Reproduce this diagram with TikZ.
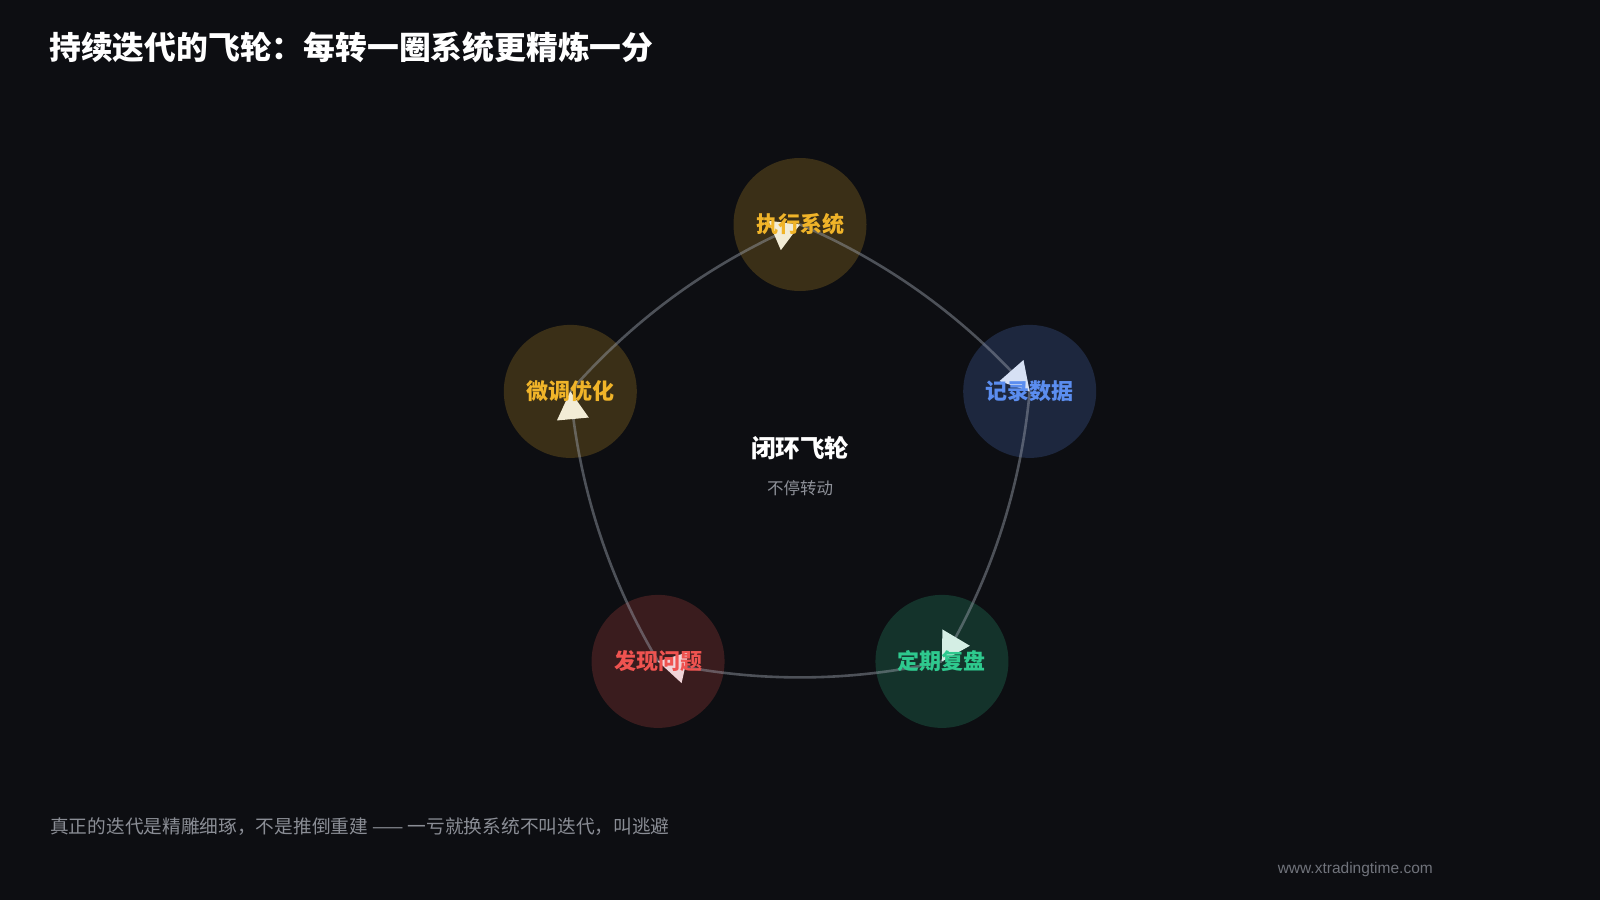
\documentclass[tikz,border=0pt]{standalone}
\usepackage{fontspec}
\setmainfont{Noto Sans CJK SC}
\newfontfamily\latinfont{Liberation Sans}
\usetikzlibrary{calc}
\definecolor{bg}{HTML}{0D0E12}
\definecolor{goldtxt}{HTML}{F0B429}
\definecolor{bluetxt}{HTML}{5B8DEF}
\definecolor{greentxt}{HTML}{2EC98E}
\definecolor{redtxt}{HTML}{EF5350}
\definecolor{goldfill}{RGB}{58,47,23}
\definecolor{bluefill}{RGB}{29,39,62}
\definecolor{greenfill}{RGB}{20,51,43}
\definecolor{redfill}{RGB}{58,28,30}
\definecolor{goldtri}{HTML}{F2ECD6}
\definecolor{bluetri}{HTML}{D6E0F4}
\definecolor{greentri}{HTML}{D4EEE4}
\definecolor{redtri}{HTML}{F0D4D8}
\definecolor{flowcol}{HTML}{9CA3AF}
\definecolor{subgray}{HTML}{8E9199}
\definecolor{footgray}{HTML}{8A8D95}
\definecolor{webgray}{HTML}{70737B}
\begin{document}
\begin{tikzpicture}[x=1pt,y=-1pt,
  ring/.style={circle, minimum size=133pt, inner sep=0pt, draw=none},
  lbl/.style={inner sep=0pt, font=\fontsize{22}{26}\selectfont\bfseries},
  flow/.style={draw=flowcol, draw opacity=0.45, line width=2.6pt},
  tri/.style={fill=#1}]
\fill[bg] (0,0) rectangle (1600,900);
\useasboundingbox (0,0) rectangle (1600,900);

% title
\node[anchor=west, inner sep=0pt, text=white, font=\fontsize{31.8}{36}\selectfont\bfseries] (title) at (49,47.5) {持续迭代的飞轮：每转一圈系统更精炼一分};

% circles
\node[ring, fill=goldfill]  (n1) at (800,224.5) {};
\node[ring, fill=bluefill]  (n2) at (1029.7,391.4) {};
\node[ring, fill=greenfill] (n3) at (941.95,661.4) {};
\node[ring, fill=redfill]   (n4) at (658.05,661.4) {};
\node[ring, fill=goldfill]  (n5) at (570.3,391.4) {};

% quadratic control points
\coordinate (c12) at (933.7,282.0);
\coordinate (c23) at (1016.3,536.3);
\coordinate (c34) at (800,693.4);
\coordinate (c45) at (583.7,536.3);
\coordinate (c51) at (666.3,282.0);

% connectors (quadratic curves written as cubic)
\draw[flow] (n1.center) .. controls ($(n1.center)!2/3!(c12)$) and ($(n2.center)!2/3!(c12)$) .. (n2.center);
\draw[flow] (n2.center) .. controls ($(n2.center)!2/3!(c23)$) and ($(n3.center)!2/3!(c23)$) .. (n3.center);
\draw[flow] (n3.center) .. controls ($(n3.center)!2/3!(c34)$) and ($(n4.center)!2/3!(c34)$) .. (n4.center);
\draw[flow] (n4.center) .. controls ($(n4.center)!2/3!(c45)$) and ($(n5.center)!2/3!(c45)$) .. (n5.center);
\draw[flow] (n5.center) .. controls ($(n5.center)!2/3!(c51)$) and ($(n1.center)!2/3!(c51)$) .. (n1.center);

% arrowheads
\fill[tri=bluetri]  (n2.center) -- ($(n2.center)!32pt!30:(c12)$) -- ($(n2.center)!32pt!-30:(c12)$) -- cycle;
\fill[tri=greentri] (n3.center) -- ($(n3.center)!32pt!30:(c23)$) -- ($(n3.center)!32pt!-30:(c23)$) -- cycle;
\fill[tri=redtri]   (n4.center) -- ($(n4.center)!32pt!30:(c34)$) -- ($(n4.center)!32pt!-30:(c34)$) -- cycle;
\fill[tri=goldtri]  (n5.center) -- ($(n5.center)!32pt!30:(c45)$) -- ($(n5.center)!32pt!-30:(c45)$) -- cycle;
\fill[tri=goldtri]  (n1.center) -- ($(n1.center)!32pt!30:(c51)$) -- ($(n1.center)!32pt!-30:(c51)$) -- cycle;

% labels
\node[lbl, text=goldtxt]  (l1) at (n1) {执行系统};
\node[lbl, text=bluetxt]  (l2) at (n2) {记录数据};
\node[lbl, text=greentxt] (l3) at (n3) {定期复盘};
\node[lbl, text=redtxt]   (l4) at (n4) {发现问题};
\node[lbl, text=goldtxt]  (l5) at (n5) {微调优化};

% center
\node[inner sep=0pt, text=white, font=\fontsize{24.5}{28}\selectfont\bfseries] (hub) at (800,448.5) {闭环飞轮};
\node[inner sep=0pt, text=subgray, font=\fontsize{16.5}{20}\selectfont] (hubsub) at (800,488.5) {不停转动};

% footer
\node[anchor=west, inner sep=0pt, text=footgray, font=\fontsize{18.7}{22}\selectfont] (foot) at (50,826.5) {真正的迭代是精雕细琢，不是推倒重建 —— 一亏就换系统不叫迭代，叫逃避};
\node[anchor=east, inner sep=0pt, text=webgray, font=\latinfont\fontsize{15.5}{18}\selectfont] (web) at (1433,869.4) {www.xtradingtime.com};
\end{tikzpicture}
\end{document}
